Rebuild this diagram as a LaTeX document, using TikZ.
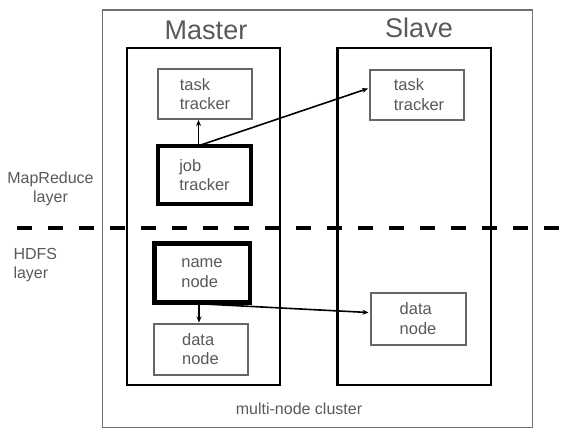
\documentclass[tikz,border=0pt]{standalone}
\usepackage{fontspec}
\setmainfont{Liberation Sans}
\usetikzlibrary{arrows.meta}
\definecolor{txtgray}{HTML}{595959}
\definecolor{boxgray}{HTML}{666666}
\definecolor{outgray}{HTML}{707070}
\tikzset{
  tbox/.style={draw=boxgray, line width=2pt, align=left, text=txtgray,
    font=\fontsize{16.5}{19.5}\selectfont, inner sep=0pt},
  kbox/.style={tbox, draw=black, line width=4.5pt},
  container/.style={draw=black, line width=2.3pt, inner sep=0pt},
  clusterbox/.style={draw=outgray, line width=1.8pt, inner sep=0pt},
  title/.style={text=txtgray, font=\fontsize{27}{31}\selectfont},
  lbl/.style={text=txtgray, font=\fontsize{16}{19}\selectfont},
  arr/.style={-{Stealth[length=6pt,width=5pt]}, line width=1.6pt},
  dashline/.style={line width=4.5pt, dash pattern=on 15pt off 16pt}
}
\begin{document}
\begin{tikzpicture}[x=1pt,y=-1pt]
\useasboundingbox (0,0) rectangle (569,429);
% cluster and containers
\node[clusterbox, minimum width=430pt, minimum height=417.5pt] (cluster) at (317.5,218.75) {};
\node[container, minimum width=153pt, minimum height=337pt] (master) at (203.5,216.5) {};
\node[container, minimum width=153.5pt, minimum height=337pt] (slave) at (414.25,216.5) {};
\node[title] (mtitle) at (206,30) {Master};
\node[title] (stitle) at (419,28) {Slave};
% boxes
\node[tbox, minimum width=94pt, minimum height=50pt] (mtt) at (205,94) {task\\tracker};
\node[kbox, minimum width=93pt, minimum height=58pt] (jt) at (204.5,175) {job\\tracker};
\node[tbox, minimum width=94pt, minimum height=50pt] (stt) at (417,94.5) {\hspace*{4pt}task\\\hspace*{4pt}tracker};
\node[kbox, minimum width=95.5pt, minimum height=59pt] (nn) at (202,273) {name\\node};
\node[tbox, minimum width=94pt, minimum height=51pt] (mdn) at (200.5,349) {data\\node};
\node[tbox, minimum width=95pt, minimum height=52pt] (sdn) at (418,318.5) {data\\node};
% labels
\node[lbl, align=center] (mrl) at (50.5,189) {MapReduce\\layer};
\node[lbl, align=left, anchor=west] (hdl) at (10,265) {HDFS\\layer};
\node[lbl] (cl) at (299,409) {multi-node cluster};
% dashed separator
\coordinate (dl) at (17,228);
\coordinate (dr) at (569,228);
\draw[dashline] (dl) -- (dr);
% arrows
\draw[arr] ([xshift=-6pt,yshift=-2pt]jt.north) -- ([xshift=-6.5pt]mtt.south);
\draw[arr] ([xshift=-6pt,yshift=-2pt]jt.north) -- ([yshift=6pt,xshift=-1pt]stt.west);
\draw[arr] ([xshift=-3pt,yshift=1pt]nn.south) -- ([xshift=-1.5pt]mdn.north);
\draw[arr] ([xshift=-3pt,yshift=1pt]nn.south) -- ([yshift=6pt,xshift=-1pt]sdn.west);
\end{tikzpicture}
\end{document}
